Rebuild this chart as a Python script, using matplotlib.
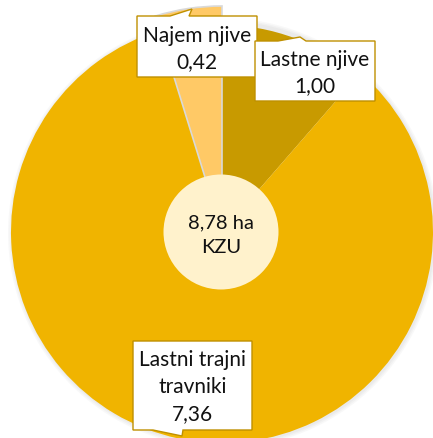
import matplotlib
matplotlib.use("Agg")
import matplotlib.pyplot as plt
from matplotlib.patches import Circle, Polygon

# data (hectares), clockwise from 12 o'clock
labels = ["Lastne njive", "Lastni trajni\ntravniki", "Najem njive"]
values = [1.00, 7.36, 0.42]
colors = ["#C89A00", "#F0B400", "#FFC966"]
center_unit = "ha\nKZU"

W, H = 433, 439
fig = plt.figure(figsize=(W / 100, H / 100), dpi=100)
ax = fig.add_axes([0, 0, 1, 1])
ax.set_xlim(0, W)
ax.set_ylim(0, H)
ax.set_aspect("equal")
ax.axis("off")

cx, cy = 222, H - 233

# soft shadow under the pie
for i, a in enumerate([0.05, 0.05, 0.06]):
    ax.add_patch(Circle((cx + 1, cy - 1), 215 - i * 1.5, color="#808080",
                        alpha=a, lw=0, zorder=0))

wedges, _ = ax.pie(values, colors=colors, startangle=90, counterclock=False,
                   center=(cx, cy), radius=211, frame=True,
                   wedgeprops=dict(linewidth=0))
ax.set_xlim(0, W)
ax.set_ylim(0, H)
ax.axis("off")
# slices are drawn with slightly different radii in the original
wedges[0].set_radius(207)
wedges[2].set_radius(226)
wedges[2].set_edgecolor("#D9D9D9")
wedges[2].set_linewidth(1.2)
wedges[2].set_zorder(3)

ax.add_patch(Circle((221, H - 233), 57.5, color="#FFF2CC", lw=0, zorder=4))
total = sum(values)
ax.text(221, H - 235, f"{total:.2f}".replace(".", ",") + " " + center_unit,
        ha="center", va="center", fontsize=14.5, family="Lato",
        color="#111111", linespacing=1.55, zorder=5)


def callout(pts, zorder=6):
    poly = [(x, H - y) for x, y in pts]
    ax.add_patch(Polygon(poly, closed=True, facecolor="white",
                         edgecolor="#BF9000", lw=1.0, zorder=zorder))


# Najem njive box (pointer on top)
callout([(137, 17), (170, 17), (192, 10), (189, 17), (257, 17),
         (257, 78), (137, 78)])
# Lastne njive box (pointer on top)
callout([(255, 42), (278, 42), (300, 38), (306, 42), (375, 42),
         (375, 102), (255, 102)])
# Lastni trajni travniki box (pointer at bottom)
callout([(133, 342), (252, 342), (252, 431), (183, 431), (182, 437),
         (153, 431), (133, 431)])

label_pos = [(315, 73), (192.5, 387), (197, 49)]
for (x, y), lab, v in zip(label_pos, labels, values):
    ax.text(x, H - y, lab + "\n" + f"{v:.2f}".replace(".", ","),
            ha="center", va="center", fontsize=15, family="Lato",
            color="#111111", linespacing=1.42, zorder=7)

fig.savefig("out.png", dpi=100)
